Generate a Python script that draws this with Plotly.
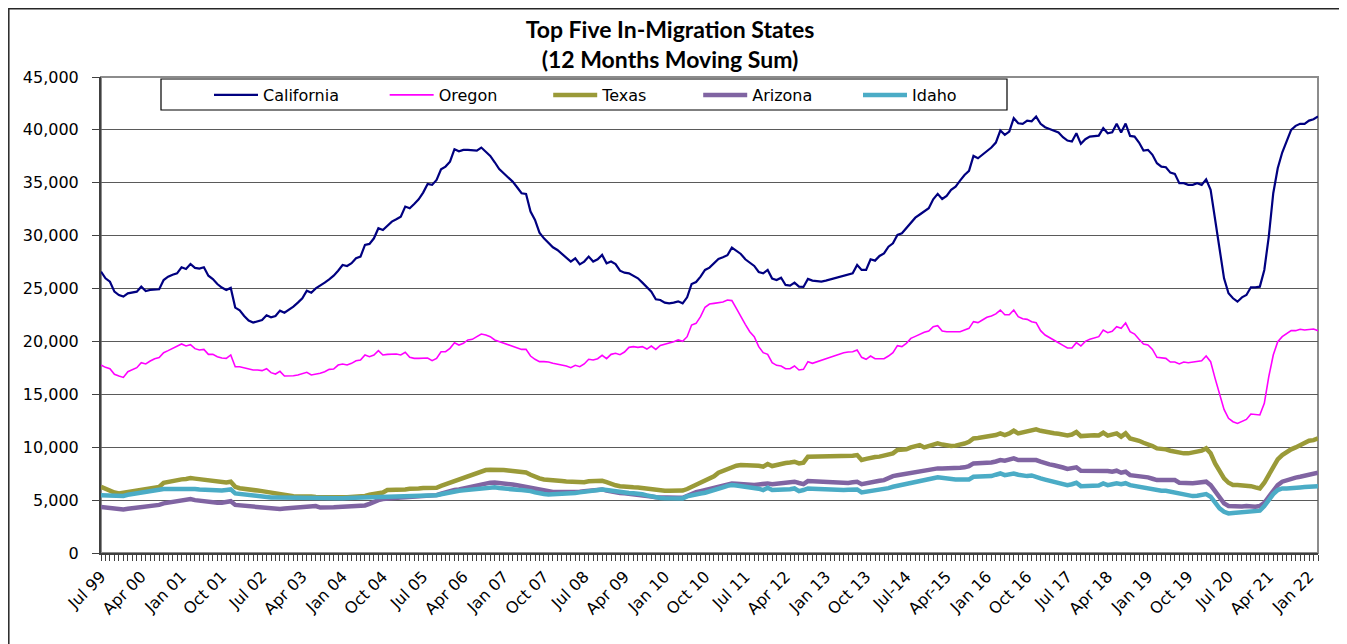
import pandas as pd
import plotly.graph_objects as go

california = [
    26600, 25970, 25650, 24710, 24390, 24240, 24550, 24610, 24710, 25180,
    24770, 24870, 24930, 24930, 25810, 26120, 26310, 26440, 27010, 26850,
    27320, 26950, 26880, 27010, 26220, 25900, 25430, 25090, 24870, 25060,
    23200, 22940, 22410, 21970, 21780, 21900, 22030, 22470, 22280, 22410,
    22910, 22720, 22970, 23290, 23670, 24080, 24800, 24610, 25020, 25270,
    25560, 25870, 26220, 26690, 27230, 27130, 27390, 27860, 28020, 29120,
    29220, 29750, 30700, 30540, 30920, 31330, 31550, 31800, 32750, 32590,
    33000, 33440, 34070, 34890, 34800, 35270, 36280, 36530, 37000, 38170,
    37980, 38110, 38110, 38110, 38040, 38330, 37980, 37540, 36940, 36300,
    35900, 35500, 35110, 34580, 34010, 33950, 32280, 31490, 30290, 29750,
    29280, 28900, 28650, 28270, 27860, 27550, 27860, 27290, 27550, 28020,
    27550, 27770, 28180, 27390, 27550, 27320, 26690, 26500, 26440, 26220,
    25970, 25560, 25120, 24710, 23980, 23920, 23670, 23600, 23670, 23790,
    23600, 24170, 25430, 25620, 26130, 26760, 26980, 27350, 27800, 27960,
    28150, 28870, 28590, 28270, 27770, 27450, 27140, 26570, 26440, 26760,
    25940, 25810, 26030, 25340, 25270, 25560, 25180, 25150, 25910, 25750,
    25690, 25650, 25750, 25870, 25940, 26130, 26190, 26310, 26440, 27230,
    26760, 26760, 27770, 27640, 28080, 28330, 28960, 29280, 30070, 30230,
    30700, 31170, 31700, 32000, 32280, 32590, 33440, 33950, 33470, 33760,
    34330, 34640, 35210, 35740, 36120, 37540, 37320, 37640, 37950, 38330,
    38800, 39940, 39530, 39840, 41100, 40630, 40570, 40880, 40820, 41260,
    40570, 40250, 40090, 39940, 39750, 39310, 38990, 38900, 39680, 38680,
    39120, 39370, 39430, 39460, 40160, 39680, 39780, 40570, 39760, 40600,
    39430, 39370, 38800, 38050, 38110, 37640, 36850, 36530, 36470, 35960,
    35840, 34960, 34960, 34800, 34800, 34960, 34800, 35330, 34330, 31490,
    28650, 25970, 24550, 24080, 23760, 24170, 24390, 25120, 25120, 25180,
    26760, 29910, 34010, 36370, 37860, 38900, 40000, 40380, 40570, 40570,
    40880, 41010, 41260,
]

oregon = [
    17770, 17550, 17420, 16890, 16730, 16600, 17140, 17360, 17520, 17990,
    17870, 18150, 18370, 18470, 18940, 19130, 19320, 19570, 19760, 19570,
    19700, 19320, 19190, 19250, 18780, 18780, 18560, 18430, 18400, 18720,
    17610, 17610, 17490, 17360, 17300, 17300, 17240, 17420, 17050, 16920,
    17170, 16730, 16730, 16760, 16820, 16920, 17080, 16830, 16890, 17000,
    17140, 17360, 17390, 17770, 17870, 17770, 17930, 18180, 18240, 18720,
    18560, 18720, 19130, 18720, 18780, 18810, 18810, 18720, 18970, 18500,
    18400, 18400, 18400, 18430, 18180, 18400, 19030, 19030, 19350, 19880,
    19660, 19820, 20140, 20200, 20450, 20700, 20610, 20450, 20140, 19980,
    19820, 19660, 19510, 19350, 19250, 19250, 18620, 18310, 18090, 18090,
    18050, 17930, 17870, 17800, 17680, 17520, 17740, 17610, 17870, 18310,
    18250, 18370, 18690, 18370, 18780, 18880, 18750, 19000, 19440, 19510,
    19440, 19510, 19280, 19570, 19250, 19630, 19730, 19880, 19980, 20140,
    20010, 20450, 21550, 21710, 22340, 23230, 23540, 23600, 23700, 23730,
    23920, 23860, 23130, 22340, 21620, 20920, 20450, 19510, 18940, 18780,
    17990, 17740, 17680, 17420, 17420, 17680, 17300, 17360, 18090, 17930,
    18090, 18180, 18340, 18500, 18650, 18810, 18940, 19000, 19030, 19190,
    18500, 18310, 18620, 18370, 18400, 18370, 18620, 18940, 19600, 19510,
    19820, 20290, 20480, 20700, 20860, 20990, 21400, 21490, 20990, 20920,
    20920, 20920, 20920, 21080, 21240, 21870, 21780, 22030, 22280, 22410,
    22600, 22970, 22530, 22530, 22970, 22340, 22150, 22090, 21870, 21780,
    21020, 20610, 20390, 20140, 19880, 19630, 19380, 19380, 19880, 19570,
    20010, 20200, 20330, 20450, 21080, 20830, 20960, 21400, 21240, 21740,
    20920, 20700, 20200, 19760, 19660, 19250, 18500, 18430, 18400, 18050,
    18050, 17870, 18050, 17990, 18050, 18120, 18180, 18620, 18090, 16510,
    15100, 13580, 12730, 12410, 12250, 12410, 12630, 13140, 13110, 13050,
    14150, 16670, 18720, 19980, 20450, 20700, 21020, 21020, 21150, 21080,
    21150, 21180, 21020,
]

texas = [
    6260, 6050, 5850, 5720, 5630, 5700, 5790, 5830, 5880, 5960,
    6040, 6100, 6170, 6250, 6640, 6740, 6830, 6900, 6960, 7000,
    7080, 7030, 6990, 6920, 6830, 6780, 6740, 6700, 6670, 6740,
    6260, 6120, 6040, 6000, 5950, 5900, 5850, 5780, 5630, 5600,
    5570, 5500, 5410, 5370, 5350, 5380, 5400, 5350, 5300, 5280,
    5260, 5250, 5250, 5260, 5270, 5280, 5290, 5300, 5320, 5400,
    5500, 5570, 5700, 5720, 5950, 5950, 5980, 6000, 6010, 6080,
    6050, 6100, 6150, 6180, 6200, 6170, 6350, 6510, 6650, 6780,
    6900, 7100, 7250, 7400, 7520, 7680, 7840, 7880, 7900, 7880,
    7840, 7800, 7780, 7720, 7680, 7620, 7400, 7200, 7050, 6950,
    6890, 6850, 6820, 6800, 6770, 6740, 6700, 6640, 6700, 6780,
    6830, 6830, 6830, 6700, 6510, 6400, 6320, 6260, 6240, 6220,
    6200, 6150, 6100, 6000, 5900, 5880, 5880, 5880, 5880, 5880,
    5900, 6050, 6260, 6450, 6650, 6830, 7050, 7250, 7590, 7780,
    7970, 8160, 8250, 8310, 8310, 8310, 8310, 8250, 8160, 8410,
    8220, 8350, 8470, 8500, 8550, 8630, 8470, 8540, 9110, 9110,
    9110, 9110, 9100, 9100, 9110, 9100, 9110, 9150, 9200, 9260,
    8790, 8900, 9040, 9080, 9110, 9200, 9300, 9420, 9740, 9770,
    9800, 9980, 10100, 10200, 9980, 10100, 10250, 10360, 10250, 10150,
    10110, 10150, 10200, 10350, 10520, 10830, 10880, 10950, 11000, 11050,
    11150, 11310, 11150, 11300, 11560, 11310, 11380, 11460, 11550, 11690,
    11550, 11450, 11370, 11330, 11280, 11240, 11120, 11200, 11430, 11050,
    11100, 11150, 11130, 11120, 11370, 11090, 11200, 11310, 11000, 11310,
    10830, 10740, 10610, 10420, 10300, 10110, 9890, 9890, 9800, 9670,
    9570, 9420, 9420, 9420, 9480, 9570, 9670, 9890, 9420, 8470,
    7680, 7050, 6640, 6420, 6420, 6420, 6420, 6320, 6200, 6100,
    6640, 7360, 8160, 8850, 9260, 9570, 9800, 9980, 10200, 10420,
    10610, 10670, 10830,
]

arizona = [
    4350, 4300, 4250, 4200, 4150, 4120, 4180, 4230, 4280, 4330,
    4380, 4400, 4440, 4550, 4690, 4760, 4820, 4880, 4940, 5000,
    5100, 5000, 4940, 4880, 4820, 4780, 4750, 4760, 4800, 4900,
    4550, 4500, 4470, 4450, 4440, 4400, 4350, 4280, 4220, 4180,
    4150, 4200, 4230, 4260, 4280, 4330, 4380, 4400, 4440, 4300,
    4280, 4300, 4320, 4340, 4360, 4380, 4400, 4420, 4440, 4500,
    4650, 4850, 5000, 5100, 5160, 5200, 5220, 5250, 5270, 5290,
    5320, 5340, 5370, 5400, 5430, 5470, 5600, 5750, 5850, 5950,
    6010, 6100, 6200, 6300, 6400, 6550, 6640, 6650, 6660, 6640,
    6600, 6550, 6480, 6400, 6320, 6260, 6150, 6050, 5950, 5870,
    5790, 5770, 5760, 5750, 5740, 5730, 5760, 5800, 5850, 5900,
    5950, 5980, 6010, 5900, 5790, 5730, 5680, 5640, 5600, 5580,
    5570, 5500, 5430, 5350, 5280, 5250, 5230, 5220, 5220, 5220,
    5220, 5400, 5630, 5750, 5850, 5950, 6100, 6250, 6350, 6450,
    6520, 6580, 6550, 6500, 6470, 6450, 6420, 6470, 6520, 6580,
    6510, 6550, 6600, 6650, 6700, 6740, 6620, 6510, 6800, 6780,
    6760, 6750, 6740, 6700, 6650, 6600, 6580, 6620, 6680, 6740,
    6510, 6600, 6740, 6780, 6830, 6890, 7100, 7270, 7350, 7430,
    7520, 7580, 7620, 7680, 7750, 7820, 7900, 8000, 7990, 7980,
    7970, 8010, 8050, 8100, 8220, 8470, 8470, 8470, 8470, 8550,
    8650, 8790, 8730, 8840, 8950, 8790, 8790, 8800, 8790, 8790,
    8630, 8470, 8380, 8300, 8220, 8080, 7940, 8000, 8100, 7780,
    7780, 7780, 7780, 7780, 7840, 7760, 7680, 7780, 7590, 7680,
    7360, 7320, 7270, 7200, 7150, 7020, 6890, 6890, 6890, 6830,
    6890, 6640, 6600, 6580, 6600, 6640, 6690, 6740, 6420, 5790,
    5160, 4690, 4440, 4400, 4370, 4400, 4440, 4400, 4370, 4440,
    4750, 5320, 5950, 6420, 6740, 6900, 7050, 7130, 7210, 7330,
    7460, 7530, 7590,
]

idaho = [
    5470, 5450, 5400, 5350, 5320, 5400, 5500, 5580, 5650, 5720,
    5790, 5850, 5900, 5950, 6040, 6060, 6070, 6080, 6090, 6100,
    6100, 6050, 6000, 5970, 5950, 5950, 5950, 5900, 5950, 6010,
    5630, 5570, 5500, 5450, 5410, 5380, 5340, 5300, 5250, 5240,
    5230, 5220, 5220, 5220, 5200, 5180, 5170, 5160, 5160, 5160,
    5160, 5160, 5160, 5170, 5180, 5190, 5200, 5200, 5210, 5220,
    5250, 5280, 5300, 5320, 5320, 5320, 5320, 5320, 5320, 5320,
    5320, 5340, 5370, 5400, 5430, 5470, 5550, 5650, 5750, 5820,
    5880, 5920, 5960, 6000, 6050, 6100, 6180, 6260, 6220, 6150,
    6080, 6010, 5980, 5970, 5960, 5950, 5850, 5730, 5630, 5580,
    5540, 5550, 5560, 5580, 5600, 5630, 5680, 5730, 5800, 5850,
    5900, 5960, 6010, 5950, 5880, 5800, 5750, 5700, 5680, 5650,
    5630, 5550, 5450, 5350, 5250, 5200, 5180, 5170, 5160, 5160,
    5160, 5350, 5470, 5550, 5620, 5700, 5800, 5900, 6050, 6200,
    6350, 6420, 6380, 6320, 6260, 6220, 6200, 6080, 5950, 6170,
    5950, 5950, 5950, 5950, 6020, 6100, 5850, 5950, 6100, 6080,
    6050, 6030, 6010, 5990, 5970, 5960, 5950, 5970, 5990, 6010,
    5730, 5800, 5850, 5880, 5950, 6010, 6130, 6260, 6360, 6470,
    6580, 6680, 6750, 6800, 6890, 6980, 7070, 7150, 7080, 7000,
    6960, 6960, 6960, 6960, 6960, 7210, 7220, 7240, 7260, 7270,
    7400, 7520, 7360, 7440, 7520, 7400, 7330, 7270, 7330, 7150,
    7050, 6940, 6830, 6720, 6610, 6510, 6420, 6500, 6640, 6320,
    6340, 6360, 6370, 6380, 6580, 6420, 6500, 6580, 6500, 6600,
    6420, 6340, 6260, 6180, 6100, 5990, 5880, 5880, 5880, 5790,
    5700, 5580, 5470, 5420, 5380, 5420, 5470, 5570, 5320, 4750,
    4220, 3900, 3740, 3780, 3810, 3850, 3900, 3900, 3900, 4000,
    4440, 5000, 5570, 5950, 6100, 6100, 6100, 6150, 6200, 6230,
    6260, 6290, 6320,
]

tick_labels = [
    "Jul 99", "Apr 00", "Jan 01", "Oct 01", "Jul 02", "Apr 03", "Jan 04", "Oct 04",
    "Jul 05", "Apr 06", "Jan 07", "Oct 07", "Jul 08", "Apr 09", "Jan 10", "Oct 10",
    "Jul 11", "Apr 12", "Jan 13", "Oct 13", "Jul-14", "Apr-15", "Jan 16", "Oct 16",
    "Jul 17", "Apr 18", "Jan 19", "Oct 19", "Jul 20", "Apr 21", "Jan 22",
]

n = len(california)
start = pd.Period("1999-07", freq="M")
categories = [(start + k).strftime("%b %Y") for k in range(n)]
ticktext = [tick_labels[k // 9] if k % 9 == 0 and k // 9 < len(tick_labels) else "" for k in range(n)]

series = [
    ("California", california, "#000080", 2.2),
    ("Oregon", oregon, "#FF00FF", 1.6),
    ("Texas", texas, "#9A9A38", 4.5),
    ("Arizona", arizona, "#8064A2", 4.5),
    ("Idaho", idaho, "#4BACC6", 4.5),
]
pads = [8, 9, 9, 8, 0]

fig = go.Figure()
for (name, vals, color, w), p in zip(series, pads):
    fig.add_trace(go.Scatter(
        x=categories[:len(vals)], y=vals, mode="lines",
        name=name + "\u00a0" * p,
        line=dict(color=color, width=w),
    ))

# page body has an 8px margin: figure coords = screen coords - 8
OFF = 8
W, H = 1347 - OFF, 644 - OFF
PL, PT, PR, PB = 101, 77, 1318, 553          # plot area, screen px
L, T = PL - OFF, PT - OFF
R, B = W - (PR - OFF), H - (PB - OFF)
pw, ph = PR - PL, PB - PT

def px_x(x):
    return (x - PL) / pw

def px_y(y):
    return (PB - y) / ph

fig.update_layout(
    width=W, height=H,
    margin=dict(l=L, r=R, t=T, b=B),
    paper_bgcolor="white", plot_bgcolor="white",
    font=dict(family="DejaVu Sans", size=16, color="black"),
    title=dict(
        text="Top Five In-Migration States<br>(12 Months Moving Sum)",
        x=(670 - OFF) / W, xanchor="center", y=1 - 30 / H, yanchor="top",
        font=dict(family="Lato", size=23, color="black", weight="bold"),
    ),
    showlegend=True,
    legend=dict(
        orientation="h", x=px_x(209), xanchor="left", y=px_y(95), yanchor="middle",
        bgcolor="rgba(0,0,0,0)", borderwidth=0,
        font=dict(family="DejaVu Sans", size=16, color="black"),
        itemwidth=44, traceorder="normal",
    ),
    xaxis=dict(
        type="category", range=[0, n - 1],
        tickmode="array", tickvals=categories, ticktext=ticktext,
        tickangle=-45, ticks="outside", ticklen=6, tickcolor="#404040", tickwidth=1,
        showline=True, linecolor="#404040", linewidth=2,
        showgrid=False, zeroline=False,
        tickfont=dict(family="DejaVu Sans", size=16, color="black"),
    ),
    yaxis=dict(
        range=[0, 45000], dtick=5000, tick0=0, tickformat=",",
        ticks="outside", ticklen=7, tickcolor="#404040", tickwidth=1,
        showline=True, linecolor="#404040", linewidth=2,
        showgrid=True, gridcolor="#5a5a5a", gridwidth=1,
        zeroline=False, ticklabelstandoff=10,
        tickfont=dict(family="DejaVu Sans", size=16, color="black"),
    ),
    shapes=[
        dict(type="rect", xref="paper", yref="paper", x0=0, x1=1, y0=0, y1=1,
             line=dict(color="#8c8c8c", width=2), layer="below"),
        dict(type="rect", xref="paper", yref="paper",
             x0=px_x(161), x1=px_x(1007), y0=px_y(110), y1=px_y(79),
             line=dict(color="black", width=1.2), layer="above"),
        dict(type="rect", xref="paper", yref="paper",
             x0=px_x(OFF + 0.8), x1=px_x(1346), y0=px_y(665), y1=px_y(OFF + 0.8),
             line=dict(color="#262626", width=1.5), layer="above"),
    ],
)

fig.write_html("out.html")
